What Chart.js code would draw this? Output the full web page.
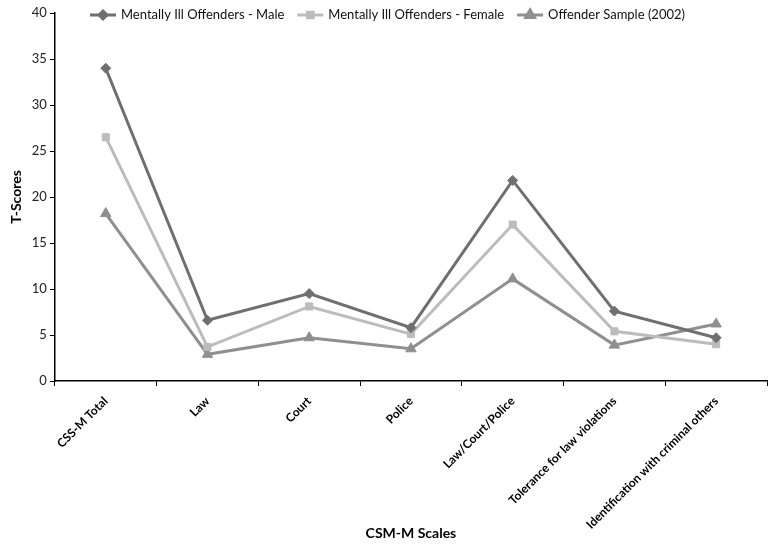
<!DOCTYPE html>
<html>
<head>
<meta charset="utf-8">
<script src="https://cdn.jsdelivr.net/npm/chart.js@4"></script>
<style>
  html, body { margin: 0; padding: 0; background: #fff; }
  #wrap { width: 774px; height: 546px; }
</style>
</head>
<body>
<div id="wrap"><canvas id="chart" width="774" height="546"></canvas></div>
<script>
// values
const SCALES = ['CSS-M Total', 'Law', 'Court', 'Police', 'Law/Court/Police',
  'Tolerance for law violations', 'Identification with criminal others'];
const MALE = [34.0, 6.6, 9.5, 5.8, 21.8, 7.6, 4.7];
const FEMALE = [26.5, 3.7, 8.1, 5.1, 17.0, 5.4, 4.0];
const SAMPLE = [18.2, 2.9, 4.7, 3.5, 11.1, 3.9, 6.2];
const Y_TICKS = [0, 5, 10, 15, 20, 25, 30, 35, 40];

const FONT = 'Lato, "Open Sans", sans-serif';

const series = [
  { label: 'Mentally Ill Offenders - Male', data: MALE, color: '#6f6f6f', style: 'rectRot', r: 5 },
  { label: 'Mentally Ill Offenders - Female', data: FEMALE, color: '#bcbcbc', style: 'rect', r: 5 },
  { label: 'Offender Sample (2002)', data: SAMPLE, color: '#8f8f8f', style: 'triangle', r: 6 }
];

// legend sits inside the plot, across the top, like the original
const topLegend = {
  id: 'topLegend',
  afterDraw(chart) {
    const ctx = chart.ctx;
    const y = 15;
    let x = 90;
    ctx.save();
    ctx.font = '13px ' + FONT;
    ctx.textBaseline = 'middle';
    series.forEach(s => {
      ctx.strokeStyle = s.color;
      ctx.lineWidth = 3;
      ctx.beginPath(); ctx.moveTo(x, y); ctx.lineTo(x + 26, y); ctx.stroke();
      ctx.fillStyle = s.color;
      Chart.helpers.drawPoint(ctx, {
        pointStyle: s.style, radius: s.r - 1, borderWidth: 1, rotation: 0
      }, x + 13, y);
      ctx.fill();
      ctx.fillStyle = '#111';
      ctx.fillText(s.label, x + 31, y);
      x += 31 + ctx.measureText(s.label).width + 13;
    });
    ctx.restore();
  }
};

new Chart(document.getElementById('chart'), {
  type: 'line',
  data: {
    labels: SCALES,
    datasets: series.map(s => ({
      label: s.label,
      data: s.data,
      borderColor: s.color,
      backgroundColor: s.color,
      borderWidth: 3,
      pointStyle: s.style,
      pointRadius: s.r,
      pointBorderWidth: 1,
      tension: 0
    }))
  },
  plugins: [topLegend],
  options: {
    responsive: false,
    animation: false,
    layout: { padding: { top: 13, right: 7, left: 8, bottom: 4 } },
    plugins: {
      tooltip: { enabled: false },
      legend: { display: false }
    },
    scales: {
      x: {
        type: 'category',
        offset: true,
        afterFit: scale => { scale.height = 161; },
        grid: { offset: true, drawOnChartArea: false, drawTicks: true, tickLength: 5, color: '#000' },
        border: { color: '#000', width: 1.5 },
        ticks: {
          color: '#000',
          font: { family: FONT, size: 12, weight: 'bold' },
          maxRotation: 45,
          minRotation: 45,
          autoSkip: false,
          padding: 8
        },
        title: {
          display: true,
          text: 'CSM-M Scales',
          color: '#000',
          font: { family: FONT, size: 14, weight: 'bold' },
          padding: { top: 0, bottom: 0 }
        }
      },
      y: {
        min: 0,
        max: 40,
        afterBuildTicks: axis => { axis.ticks = Y_TICKS.map(v => ({ value: v })); },
        grid: { drawOnChartArea: false, drawTicks: true, tickLength: 5, color: '#000' },
        border: { color: '#000', width: 1.5 },
        ticks: {
          color: '#222',
          font: { family: FONT, size: 13 },
          padding: 3
        },
        title: {
          display: true,
          text: 'T-Scores',
          color: '#000',
          font: { family: FONT, size: 14, weight: 'bold' },
          padding: { top: 0, bottom: 4 }
        }
      }
    }
  }
});
</script>
</body>
</html>
